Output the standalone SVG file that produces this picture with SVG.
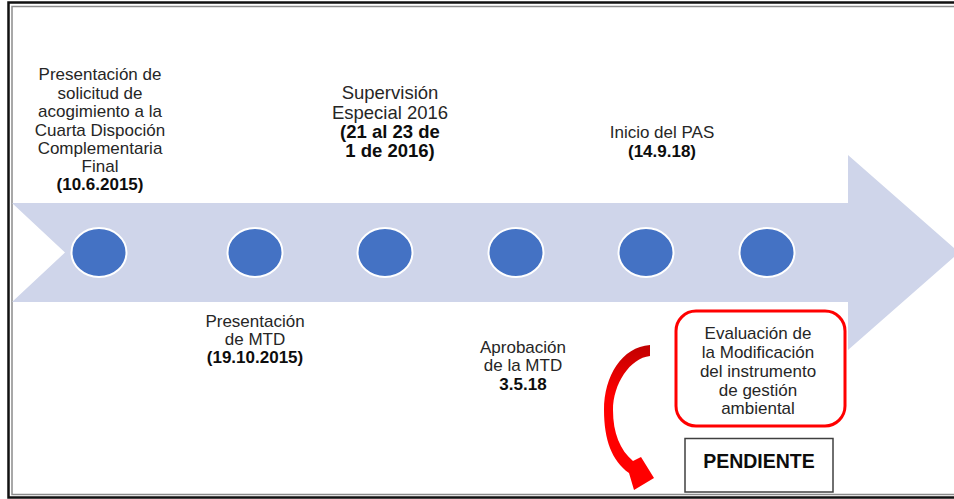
<svg xmlns="http://www.w3.org/2000/svg" width="954" height="499" viewBox="0 0 954 499">
<defs>
<style>
.t{font-family:"Liberation Sans",Arial,sans-serif;font-size:17px;fill:#262626;text-anchor:middle}
.b{font-weight:bold;fill:#0d0d0d}
.dot{fill:#4472C4;stroke:#ffffff;stroke-width:2}
</style>
<linearGradient id="rg" x1="0" y1="0" x2="0" y2="1">
<stop offset="0" stop-color="#C00000"/>
<stop offset="0.35" stop-color="#FF0000"/>
<stop offset="1" stop-color="#FF0000"/>
</linearGradient>
</defs>
<rect width="954" height="499" fill="#ffffff"/>
<g id="frame" fill="none">
<path d="M960,2.5 H8.5 V497.5 H960" stroke="#111111" stroke-width="2.5"/>
<path d="M960,6.5 H12 V494.5 H960" stroke="#8c8c8c" stroke-width="1.5"/>
</g>
<g id="timeline">
<path d="M12,203 H848 V155 L959,252.5 L848,350 V302 H12 L65,252.5 Z" fill="#CFD5EA"/>
</g>
<g id="n1">
<ellipse class="dot" cx="99" cy="252.5" rx="27.5" ry="24.5"/>
<text class="t"><tspan x="100" y="80">Presentación de</tspan><tspan x="100" y="98.5">solicitud de</tspan><tspan x="100" y="117">acogimiento a la</tspan><tspan x="100" y="135.5">Cuarta Dispoción</tspan><tspan x="100" y="154">Complementaria</tspan><tspan x="100" y="172">Final</tspan><tspan x="100" y="190" class="b">(10.6.2015)</tspan></text>
</g>
<g id="n2">
<ellipse class="dot" cx="255" cy="252.5" rx="27.5" ry="24.5"/>
<text class="t"><tspan x="255" y="327">Presentación</tspan><tspan x="255" y="345">de MTD</tspan><tspan x="255" y="363" class="b">(19.10.2015)</tspan></text>
</g>
<g id="n3">
<ellipse class="dot" cx="385" cy="252.5" rx="27.5" ry="24.5"/>
<text class="t" style="font-size:18.5px"><tspan x="390" y="99">Supervisión</tspan><tspan x="390" y="119">Especial 2016</tspan><tspan x="390" y="138" class="b">(21 al 23 de</tspan><tspan x="390" y="157" class="b">1 de 2016)</tspan></text>
</g>
<g id="n4">
<ellipse class="dot" cx="516" cy="252.5" rx="27.5" ry="24.5"/>
<text class="t"><tspan x="523" y="353">Aprobación</tspan><tspan x="523" y="371">de la MTD</tspan><tspan x="523" y="390" class="b">3.5.18</tspan></text>
</g>
<g id="n5">
<ellipse class="dot" cx="646" cy="252.5" rx="27.5" ry="24.5"/>
<text class="t"><tspan x="662" y="138">Inicio del PAS</tspan><tspan x="662" y="157" class="b">(14.9.18)</tspan></text>
</g>
<g id="n6">
<ellipse class="dot" cx="767" cy="252.5" rx="27.5" ry="24.5"/>
</g>
<g id="eval">
<rect x="676" y="311" width="169" height="115" rx="20" ry="20" fill="#ffffff" stroke="#FF0000" stroke-width="3"/>
<text class="t"><tspan x="758" y="339">Evaluación de</tspan><tspan x="758" y="358">la Modificación</tspan><tspan x="758" y="377">del instrumento</tspan><tspan x="758" y="396">de gestión</tspan><tspan x="758" y="414">ambiental</tspan></text>
</g>
<g id="pendiente">
<rect x="685" y="438.5" width="148" height="53.5" fill="#ffffff" stroke="#404040" stroke-width="1.5"/>
<text class="t b" x="759" y="468" style="font-size:19.5px">PENDIENTE</text>
</g>
<g id="connectors">
<path d="M650,345 L650,356 C630,358 613,384 613,410 C613,433 620,450 633,461 L641,457 L654,478 L634,490 L629,473 C612,461 604,440 604,410 C604,376 622,347 650,345 Z" fill="url(#rg)"/>
</g>
</svg>
